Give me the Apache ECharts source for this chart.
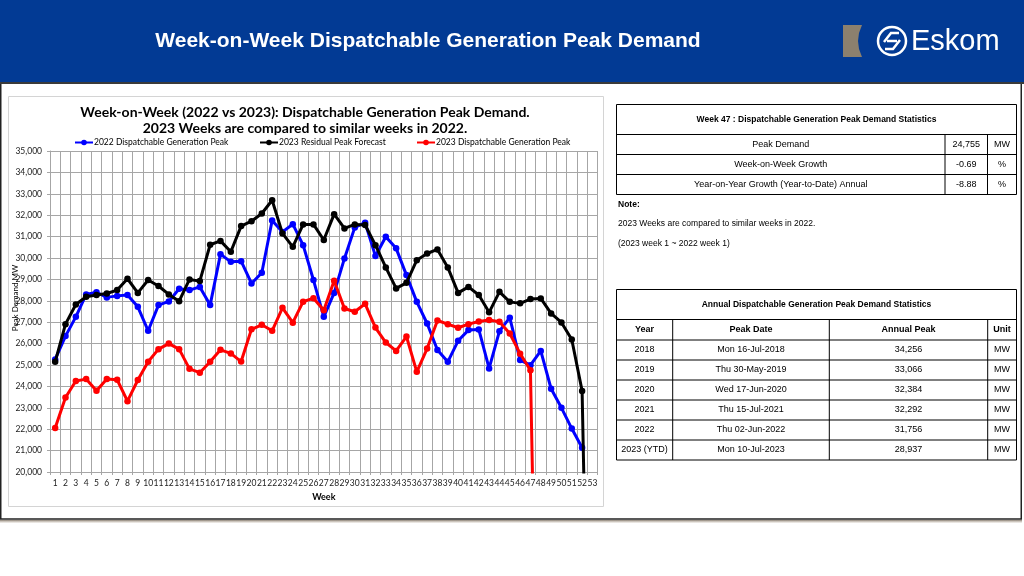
<!DOCTYPE html>
<html><head><meta charset="utf-8">
<script src="https://cdn.jsdelivr.net/npm/echarts@6/dist/echarts.min.js"></script>
<style>html,body{margin:0;padding:0;background:#fff;}#c{width:1024px;height:576px;}</style>
</head><body><div id="c"></div>
<script>
// ---------------- data ----------------
const weeks = ['1','2','3','4','5','6','7','8','9','10','11','12','13','14','15','16','17','18','19','20','21','22','23','24','25','26','27','28','29','30','31','32','33','34','35','36','37','38','39','40','41','42','43','44','45','46','47','48','49','50','51','52','53'];
const seriesNames = ['2022 Dispatchable Generation Peak','2023 Residual Peak Forecast','2023 Dispatchable Generation Peak'];
const peak2022 = [25260,26350,27250,28300,28400,28160,28230,28270,27720,26600,27800,27970,28560,28500,28650,27800,30180,29820,29850,28810,29310,31756,31220,31580,30600,28970,27250,28370,29980,31430,31650,30090,30990,30450,29200,27950,26940,25700,25150,26130,26630,26660,24840,26580,27210,25230,24990,25660,23890,23000,22030,21130,null];
const forecast2023 = [25150,26910,27830,28190,28270,28340,28500,29030,28370,28970,28690,28300,27980,29000,28920,30620,30800,30290,31490,31720,32080,32700,31150,30520,31570,31570,30840,32050,31380,31570,31540,30600,29560,28580,28840,29900,30210,30400,29560,28370,28650,28270,27460,28420,27950,27880,28080,28110,27410,26990,26190,23790,0];
const peak2023 = [22060,23480,24250,24340,23800,24350,24310,23310,24300,25150,25740,26000,25740,24820,24640,25150,25710,25540,25160,26670,26880,26600,27670,26980,27960,28120,27560,28937,27640,27490,27860,26750,26050,25660,26330,24680,25770,27080,26910,26740,26910,27030,27100,27020,26470,25530,24755,0,null,null,null,null,null];

const pageTitle = 'Week-on-Week Dispatchable Generation Peak Demand';
const chartTitle = ['Week-on-Week (2022 vs 2023): Dispatchable Generation Peak Demand.','2023 Weeks are compared to similar weeks in 2022.'];
const weekTitle = 'Week 47 : Dispatchable Generation Peak Demand Statistics';
const statLabels = ['Peak Demand','Week-on-Week Growth','Year-on-Year Growth (Year-to-Date) Annual'];
const statValues = ['24,755','-0.69','-8.88'];
const statUnits = ['MW','%','%'];
const notes = ['Note:','2023 Weeks are compared to similar weeks in 2022.','(2023 week 1 ~ 2022 week 1)'];
const annualTitle = 'Annual Dispatchable Generation Peak Demand Statistics';
const annualHeaders = ['Year','Peak Date','Annual Peak','Unit'];
const annualYears = ['2018','2019','2020','2021','2022','2023 (YTD)'];
const annualDates = ['Mon 16-Jul-2018','Thu 30-May-2019','Wed 17-Jun-2020','Thu 15-Jul-2021','Thu 02-Jun-2022','Mon 10-Jul-2023'];
const annualPeaks = ['34,256','33,066','32,384','32,292','31,756','28,937'];
const annualUnits = ['MW','MW','MW','MW','MW','MW'];

// ---------------- graphics ----------------
const AR = 'Liberation Sans, Arial, sans-serif';
const CAL = 'Lato, sans-serif';
const g = [];
function line(x1,y1,x2,y2,c,w){ g.push({type:'line',shape:{x1,y1,x2,y2},style:{stroke:c||'#000',lineWidth:w||1},z:50}); }
function txt(t,x,y,opt){ g.push(Object.assign({type:'text',x,y,z:51,style:Object.assign({text:t,fill:'#000',font:'9px '+AR,textAlign:'center',textVerticalAlign:'middle'},opt||{})})); }

// header band
g.push({type:'rect',shape:{x:0,y:0,width:1024,height:83},style:{fill:'#023a94'},z:40});
g.push({type:'rect',shape:{x:0,y:82,width:1024,height:2},style:{fill:'#3a3a3a'},z:41});
txt(pageTitle,428,41,{fill:'#fff',font:'bold 21px '+AR});
// logo
g.push({type:'polygon',shape:{points:[[843,25],[862,25],[859,33],[858,41],[859,49],[862,57],[843,57]]},style:{fill:'#8c806e'},z:45});
g.push({type:'circle',shape:{cx:892,cy:41,r:14},style:{fill:'none',stroke:'#fff',lineWidth:2.5},z:45});
g.push({type:'polyline',shape:{points:[[884,42],[891,33],[899,33]]},style:{fill:'none',stroke:'#fff',lineWidth:2.5},z:45});
g.push({type:'polyline',shape:{points:[[900,40],[893,49],[885,49]]},style:{fill:'none',stroke:'#fff',lineWidth:2.5},z:45});
g.push({type:'line',shape:{x1:887,y1:41,x2:897,y2:41},style:{stroke:'#fff',lineWidth:2.5},z:45});
txt('Eskom',911,42,{fill:'#fff',font:'29px '+AR,textAlign:'left'});

// frame
g.push({type:'rect',shape:{x:0.75,y:83,width:1020.5,height:436},style:{fill:'none',stroke:'#222',lineWidth:1.5},z:30});
g.push({type:'rect',shape:{x:0,y:520,width:1022,height:3},style:{fill:{type:'linear',x:0,y:0,x2:0,y2:1,colorStops:[{offset:0,color:'#8a7f73'},{offset:1,color:'rgba(200,190,175,0.2)'}]}},z:30});
// chart box
g.push({type:'rect',shape:{x:8.5,y:96.5,width:595,height:410},style:{fill:'none',stroke:'#d4d4d4',lineWidth:1},z:1});

// chart title + y name
txt(chartTitle[0],305,112,{font:'bold 14px '+CAL});
txt(chartTitle[1],305,128,{font:'bold 14px '+CAL});
g.push({type:'text',x:15,y:298,rotation:Math.PI/2,z:51,style:{text:'Peak Demand MW',fill:'#000',font:'8px '+CAL,textAlign:'center',textVerticalAlign:'middle'}});

// table 1
(function(){
  const xs=[616.5,945,987.5,1016.5], ys=[104.5,134.5,154.5,174.5,194.5];
  line(xs[0],ys[0],xs[3],ys[0]); 
  for(let i=1;i<ys.length;i++) line(xs[0],ys[i],xs[3],ys[i]);
  line(xs[0],ys[0],xs[0],ys[4]); line(xs[3],ys[0],xs[3],ys[4]);
  line(xs[1],ys[1],xs[1],ys[4]); line(xs[2],ys[1],xs[2],ys[4]);
  txt(weekTitle,(xs[0]+xs[3])/2,(ys[0]+ys[1])/2,{font:'bold 8.5px '+AR});
  for(let i=0;i<statLabels.length;i++){
    const cy=(ys[i+1]+ys[i+2])/2;
    txt(statLabels[i],(xs[0]+xs[1])/2,cy);
    txt(statValues[i],(xs[1]+xs[2])/2,cy);
    txt(statUnits[i],(xs[2]+xs[3])/2,cy);
  }
  txt(notes[0],618,205,{font:'bold 8.5px '+AR,textAlign:'left'});
  txt(notes[1],618,224,{font:'8.5px '+AR,textAlign:'left'});
  txt(notes[2],618,244,{font:'8.5px '+AR,textAlign:'left'});
})();
// table 2
(function(){
  const xs=[616.5,672.7,829.3,987.7,1016.5], ys=[289.5,319.5,340,360,380,400,420,440,460];
  for(let i=0;i<ys.length;i++) line(xs[0],ys[i],xs[4],ys[i]);
  line(xs[0],ys[0],xs[0],ys[8]); line(xs[4],ys[0],xs[4],ys[8]);
  for(let j=1;j<4;j++) line(xs[j],ys[1],xs[j],ys[8]);
  txt(annualTitle,(xs[0]+xs[4])/2,(ys[0]+ys[1])/2,{font:'bold 8.5px '+AR});
  for(let j=0;j<4;j++) txt(annualHeaders[j],(xs[j]+xs[j+1])/2,(ys[1]+ys[2])/2,{font:'bold 9px '+AR});
  const cols=[annualYears,annualDates,annualPeaks,annualUnits];
  for(let i=0;i<annualYears.length;i++){
    const cy=(ys[i+2]+ys[i+3])/2;
    for(let j=0;j<4;j++) txt(cols[j][i],(xs[j]+xs[j+1])/2,cy);
  }
})();

// ---------------- chart ----------------
const colors=['#0000ff','#000000','#ff0000'];
const datas=[peak2022,forecast2023,peak2023];
const lefts=[74,259,416];
const chart = echarts.init(document.getElementById('c'),null,{renderer:'canvas'});
chart.setOption({
  backgroundColor:'#fff',
  animation:false,
  color:colors,
  legend: seriesNames.map((n,i)=>({data:[n],left:lefts[i],top:138,itemWidth:18,itemHeight:7,padding:0,
    textStyle:{fontSize:8.5,fontFamily:CAL,color:'#000',padding:[0,0,0,-4]}})),
  grid:{left:50,right:426.4,top:151,bottom:104},
  xAxis:{type:'category',data:weeks,boundaryGap:true,
    name:'Week',nameLocation:'middle',nameGap:21,nameTextStyle:{fontSize:9,fontWeight:'bold',fontFamily:CAL,color:'#000'},
    axisLine:{show:true,lineStyle:{color:'#a6a6a6'}},
    axisTick:{show:true,length:3,interval:0,lineStyle:{color:'#a6a6a6'}},
    axisLabel:{interval:0,fontSize:8.5,fontFamily:CAL,color:'#222',margin:7},
    splitLine:{show:true,interval:0,lineStyle:{color:'#a6a6a6',width:1}}},
  yAxis:{type:'value',min:20000,max:35000,interval:1000,
    axisLine:{show:true,lineStyle:{color:'#a6a6a6'}},
    axisTick:{show:true,length:3,lineStyle:{color:'#a6a6a6'}},
    axisLabel:{fontSize:8.5,fontFamily:CAL,color:'#222',margin:8,formatter:v=>v.toLocaleString('en-US')},
    splitLine:{show:true,lineStyle:{color:'#a6a6a6',width:1}}},
  series: seriesNames.map((n,i)=>({name:n,type:'line',data:datas[i],symbol:'circle',symbolSize:6.5,
    lineStyle:{width:3,color:colors[i]},itemStyle:{color:colors[i]},clip:true,connectNulls:false,z:3+i})),
  graphic:{elements:g}
});
</script></body></html>
